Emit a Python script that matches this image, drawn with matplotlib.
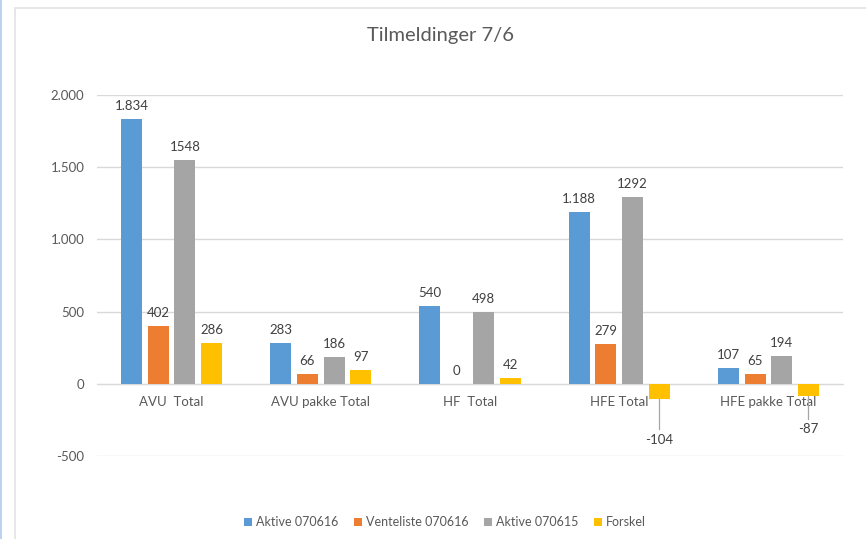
import matplotlib.pyplot as plt
import numpy as np
from matplotlib.patches import Rectangle

plt.rcParams['font.family'] = ['Lato', 'DejaVu Sans']

# data
categories = ['AVU  Total', 'AVU pakke Total', 'HF  Total', 'HFE Total', 'HFE pakke Total']
series_names = ['Aktive 070616', 'Venteliste 070616', 'Aktive 070615', 'Forskel']
aktive_070616 = [1834, 283, 540, 1188, 107]
venteliste_070616 = [402, 66, 0, 279, 65]
aktive_070615 = [1548, 186, 498, 1292, 194]
forskel = [286, 97, 42, -104, -87]
y_ticks = [-500, 0, 500, 1000, 1500, 2000]

colors = ['#5B9BD5', '#ED7D31', '#A5A5A5', '#FFC000']
use_sep = [True, False, False, False]


def dk(v, sep=True):
    if sep:
        return '{:,}'.format(v).replace(',', '.')
    return str(v)


fig = plt.figure(figsize=(8.66, 5.39), dpi=100)
ax = fig.add_axes([97/866, (539-456)/539, (843-97)/866, (456-95)/539])

# chart frame like the excel screenshot
fig.patches.append(Rectangle((15/866, -0.01), 1.0, (539-8)/539 + 0.01, transform=fig.transFigure,
                             fill=False, edgecolor='#e3e3e3', linewidth=1.2))
fig.patches.append(Rectangle((0.0, 0.0), 1.5/866, 1.0, transform=fig.transFigure,
                             facecolor='#bcd2f0', edgecolor='none'))

x = np.arange(len(categories))
pitch = 0.179
width = 0.141
all_series = [aktive_070616, venteliste_070616, aktive_070615, forskel]

for j, vals in enumerate(all_series):
    xs = x + (j - 1.5) * pitch
    ax.bar(xs, vals, width, color=colors[j], label=series_names[j], zorder=3)
    for xi, v in zip(xs, vals):
        if v >= 0:
            ax.annotate(dk(v, use_sep[j]), (xi, v), xytext=(0, 5), textcoords='offset points',
                        ha='center', va='bottom', fontsize=9.5, color='#404040')

# negative labels with leader lines
neg_label_y = {3: -388, 4: -312}
neg_line_end = {3: -312, 4: -242}
for i in range(len(categories)):
    v = forskel[i]
    if v < 0:
        xi = x[i] + 1.5 * pitch
        ax.plot([xi, xi], [v, neg_line_end[i]], color='#a6a6a6', linewidth=0.9, zorder=4)
        ax.text(xi, neg_label_y[i], dk(v), ha='center', va='center', fontsize=9.5, color='#404040')

ax.set_ylim(-500, 2000)
ax.set_xlim(-0.5, len(categories) - 0.5)
ax.set_yticks(y_ticks)
ax.set_yticklabels([dk(t) for t in y_ticks])
ax.grid(axis='y', color='#d9d9d9', linewidth=1, zorder=0)
ax.set_xticks(x)
ax.set_xticklabels(categories)
ax.spines['bottom'].set_position(('data', 0))
ax.spines['bottom'].set_color('#d9d9d9')
ax.spines['bottom'].set_zorder(2)
for s in ['top', 'right', 'left']:
    ax.spines[s].set_visible(False)
ax.tick_params(axis='both', length=0, labelsize=9.5, labelcolor='#595959')
ax.tick_params(axis='x', pad=9)
ax.tick_params(axis='y', pad=9)

fig.text(440/866, 1 - 35/539, 'Tilmeldinger 7/6', ha='center', va='center', fontsize=14.5, color='#595959')

ax.legend(loc='center', bbox_to_anchor=(445/866, 1 - 522/539), bbox_transform=fig.transFigure,
          ncol=4, frameon=False, fontsize=9, handlelength=0.6, handleheight=0.6,
          handletextpad=0.3, columnspacing=1.3, labelcolor='#595959')

fig.savefig('out.png', dpi=100)
